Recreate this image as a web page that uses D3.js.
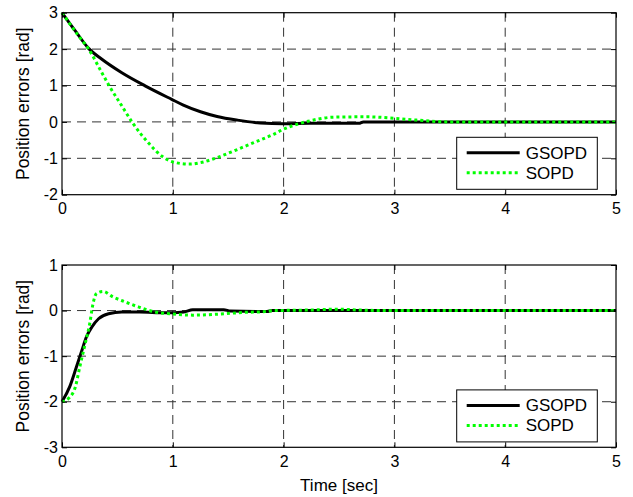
<!DOCTYPE html>
<html lang="en">
<head>
    <meta charset="UTF-8">
    <title>Position errors</title>
    <script src="https://cdn.jsdelivr.net/npm/d3@7"></script>
    <style>
        body { margin: 0; background: #fff; }
        text { font-family: "Liberation Sans", Arial, sans-serif; }
    </style>
</head>
<body>
    <script>
    // data
    var xTicks = [0, 1, 2, 3, 4, 5];
    var topYTicks = [-2, -1, 0, 1, 2, 3];
    var botYTicks = [-3, -2, -1, 0, 1];
    var seriesNames = ["GSOPD", "SOPD"];

    // upper plot
    var topGsopdT = [0, 0.12, 0.24, 0.36, 0.54, 0.75, 0.99, 1.09, 1.25, 1.40, 1.58, 1.79, 2.0, 2.24, 2.68, 2.72, 3, 4, 5];
    var topGsopdY = [3, 2.5, 2.02, 1.72, 1.35, 0.99, 0.62, 0.47, 0.28, 0.15, 0.05, -0.03, -0.05, -0.04, -0.04, 0, 0, 0, 0];
    var topSopdT = [0, 0.15, 0.24, 0.36, 0.43, 0.54, 0.64, 0.79, 0.91, 1.0, 1.15, 1.25, 1.4, 1.55, 1.73, 1.91, 2.0, 2.15, 2.3, 2.45, 2.75, 3.0, 3.2, 3.5, 4, 5];
    var topSopdY = [3, 2.36, 2.0, 1.35, 0.97, 0.44, -0.04, -0.61, -0.96, -1.1, -1.16, -1.12, -0.98, -0.8, -0.57, -0.34, -0.2, -0.04, 0.07, 0.13, 0.14, 0.1, 0.05, 0, 0, 0];

    // lower plot
    var botGsopdT = [0, 0.07, 0.13, 0.18, 0.22, 0.27, 0.33, 0.42, 0.54, 0.7, 0.93, 1.1, 1.18, 1.46, 1.52, 1.85, 1.9, 2, 3, 4, 5];
    var botGsopdY = [-2, -1.67, -1.24, -0.87, -0.58, -0.36, -0.18, -0.07, -0.03, -0.03, -0.05, -0.03, 0.02, 0.02, -0.01, -0.02, 0, 0, 0, 0, 0];
    var botSopdT = [0, 0.07, 0.12, 0.16, 0.21, 0.25, 0.28, 0.31, 0.37, 0.46, 0.57, 0.69, 0.84, 0.97, 1.18, 1.4, 1.64, 1.85, 1.91, 2.2, 2.5, 2.7, 3, 4, 5];
    var botSopdY = [-2, -1.9, -1.68, -1.24, -0.72, -0.29, 0.15, 0.37, 0.42, 0.3, 0.19, 0.08, -0.03, -0.07, -0.1, -0.08, -0.04, -0.02, 0, 0.01, 0.03, 0.01, 0, 0, 0];

    var width = 633, height = 497;
    var left = 62, right = 616;

    var svg = d3.select("body").append("svg")
        .attr("width", width).attr("height", height);

    var x = d3.scaleLinear().domain([0, 5]).range([left, right]);

    function zip(t, v) {
        return t.map(function(d, i) { return [d, v[i]]; });
    }

    function drawPanel(top, bottom, yDomain, yTicks, gsT, gsY, soT, soY) {
        var y = d3.scaleLinear().domain(yDomain).range([bottom, top]);
        var g = svg.append("g");

        // grid
        g.selectAll(".vgrid").data(xTicks.slice(1, -1)).enter().append("line")
            .attr("x1", function(d) { return x(d); }).attr("x2", function(d) { return x(d); })
            .attr("y1", top).attr("y2", bottom)
            .attr("stroke", "#333").attr("stroke-dasharray", "9,6");
        g.selectAll(".hgrid").data(yTicks.slice(1, -1)).enter().append("line")
            .attr("x1", left).attr("x2", right)
            .attr("y1", function(d) { return y(d); }).attr("y2", function(d) { return y(d); })
            .attr("stroke", "#333").attr("stroke-dasharray", "9,6");

        var line = d3.line()
            .x(function(d) { return x(d[0]); })
            .y(function(d) { return y(d[1]); })
            .curve(d3.curveMonotoneX);

        g.append("path").datum(zip(gsT, gsY))
            .attr("d", line).attr("fill", "none")
            .attr("stroke", "#000").attr("stroke-width", 3);
        g.append("path").datum(zip(soT, soY))
            .attr("d", line).attr("fill", "none")
            .attr("stroke", "#00ff00").attr("stroke-width", 3)
            .attr("stroke-dasharray", "3,3");

        // axes, ticks point inward
        var ax = g.append("g").attr("transform", "translate(0," + bottom + ")")
            .call(d3.axisBottom(x).tickValues(xTicks).tickSize(-5).tickPadding(8).tickFormat(d3.format("d")));
        var ay = g.append("g").attr("transform", "translate(" + left + ",0)")
            .call(d3.axisLeft(y).tickValues(yTicks).tickSize(-5).tickPadding(4).tickFormat(function(d) { return d < 0 ? "-" + Math.abs(d) : d; }));
        var at = g.append("g").attr("transform", "translate(0," + top + ")")
            .call(d3.axisTop(x).tickValues(xTicks).tickSize(-5).tickFormat(""));
        var ar = g.append("g").attr("transform", "translate(" + right + ",0)")
            .call(d3.axisRight(y).tickValues(yTicks).tickSize(-5).tickFormat(""));
        [ax, ay, at, ar].forEach(function(a) {
            a.select(".domain").remove();
            a.selectAll("line").attr("stroke", "#000");
            a.selectAll("text").attr("font-size", 16).attr("fill", "#000")
                .attr("font-family", "Liberation Sans, Arial, sans-serif");
        });

        g.append("rect")
            .attr("x", left).attr("y", top)
            .attr("width", right - left).attr("height", bottom - top)
            .attr("fill", "none").attr("stroke", "#000").attr("stroke-width", 1.2);

        // y label
        g.append("text")
            .attr("transform", "translate(29," + (top + bottom) / 2 + ") rotate(-90)")
            .attr("text-anchor", "middle")
            .attr("font-size", 17.5)
            .text("Position errors [rad]");

        // legend
        var lx = 456.7, lw = 140.6, lh = 52;
        var ly = bottom - 5.4 - lh;
        var leg = g.append("g");
        leg.append("rect").attr("x", lx).attr("y", ly).attr("width", lw).attr("height", lh)
            .attr("fill", "#fff").attr("stroke", "#000").attr("stroke-width", 1);
        seriesNames.forEach(function(name, i) {
            var cy = ly + 15.5 + i * 20;
            leg.append("line")
                .attr("x1", lx + 10).attr("x2", lx + 63)
                .attr("y1", cy).attr("y2", cy)
                .attr("stroke", i === 0 ? "#000" : "#00ff00")
                .attr("stroke-width", 3)
                .attr("stroke-dasharray", i === 0 ? null : "3,3");
            leg.append("text")
                .attr("x", lx + 69).attr("y", cy + 6)
                .attr("font-size", 17)
                .text(name);
        });
    }

    drawPanel(12.7, 194.7, [-2, 3], topYTicks, topGsopdT, topGsopdY, topSopdT, topSopdY);
    drawPanel(265, 447.3, [-3, 1], botYTicks, botGsopdT, botGsopdY, botSopdT, botSopdY);

    svg.append("text")
        .attr("x", (left + right) / 2).attr("y", 491)
        .attr("text-anchor", "middle")
        .attr("font-size", 17)
        .text("Time [sec]");
    </script>
</body>
</html>
